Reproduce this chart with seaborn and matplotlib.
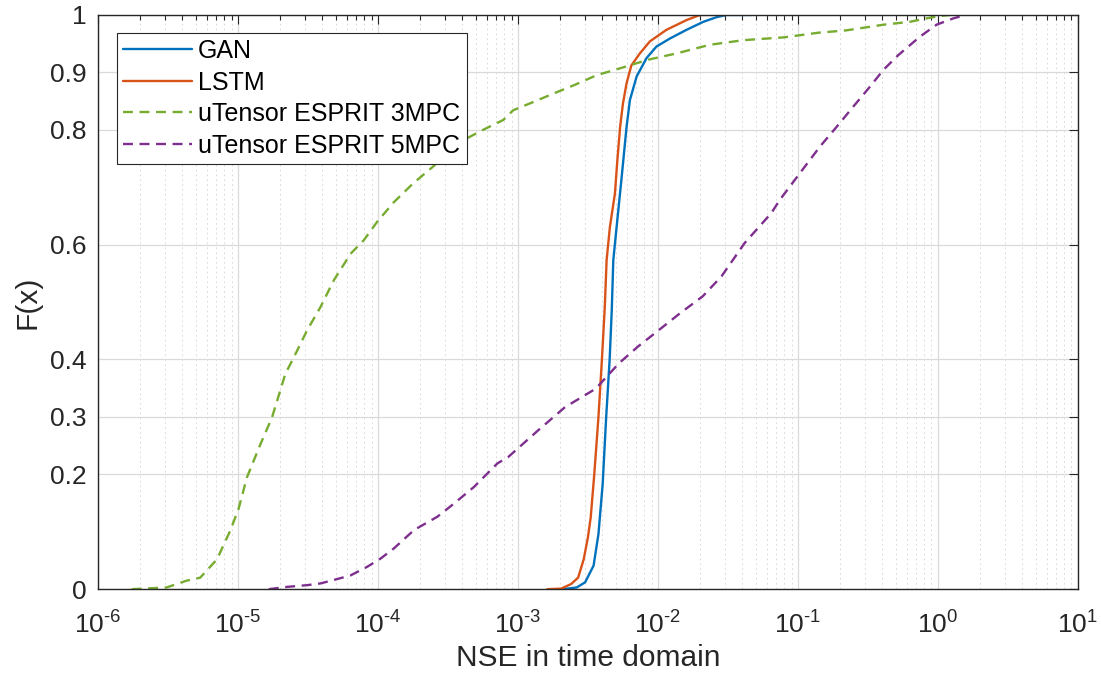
import numpy as np
import pandas as pd
import matplotlib
matplotlib.use("Agg")
import matplotlib.pyplot as plt
import matplotlib.ticker as mticker
import seaborn as sns

# CDF values (x = NSE, y = F(x))
gan_nse = [2.09e-3, 2.63e-3, 3.02e-3, 3.47e-3, 3.76e-3, 4.03e-3, 4.27e-3, 4.52e-3,
           4.68e-3, 4.80e-3, 5.07e-3, 5.51e-3, 5.97e-3, 6.31e-3, 7.05e-3, 8.30e-3,
           9.77e-3, 1.22e-2, 1.60e-2, 2.11e-2, 2.62e-2, 3.09e-2, 4.67e-2]
gan_cdf = [0.0, 0.003, 0.012, 0.041, 0.096, 0.183, 0.30, 0.40,
           0.486, 0.573, 0.631, 0.718, 0.805, 0.852, 0.893, 0.925,
           0.945, 0.959, 0.974, 0.988, 0.996, 1.0, 1.0]

lstm_nse = [1.62e-3, 2.04e-3, 2.40e-3, 2.69e-3, 2.95e-3, 3.16e-3, 3.31e-3, 3.51e-3,
            3.76e-3, 3.98e-3, 4.17e-3, 4.30e-3, 4.54e-3, 4.93e-3, 5.13e-3, 5.37e-3,
            5.62e-3, 5.97e-3, 6.46e-3, 7.43e-3, 8.77e-3, 1.15e-2, 1.60e-2, 2.00e-2, 3.02e-2]
lstm_cdf = [0.0, 0.001, 0.009, 0.02, 0.052, 0.09, 0.125, 0.20,
            0.30, 0.40, 0.49, 0.573, 0.631, 0.689, 0.747, 0.805,
            0.845, 0.881, 0.912, 0.933, 0.954, 0.974, 0.991, 1.0, 1.0]

esprit3_nse = [1.74e-6, 3.09e-6, 4.32e-6, 5.37e-6, 7.08e-6, 8.81e-6, 1.01e-5, 1.16e-5,
               1.45e-5, 1.75e-5, 2.18e-5, 2.51e-5, 3.12e-5, 3.88e-5, 4.84e-5, 6.37e-5,
               7.94e-5, 9.89e-5, 1.30e-4, 1.79e-4, 2.48e-4, 3.27e-4, 4.31e-4, 5.65e-4,
               7.85e-4, 9.25e-4, 1.22e-3, 1.79e-3, 2.48e-3, 3.65e-3, 5.36e-3, 8.51e-3,
               1.36e-2, 2.35e-2, 4.07e-2, 8.0e-2, 0.14, 0.22, 0.41, 0.63, 0.83, 1.03, 1.23]
esprit3_cdf = [0.0, 0.003, 0.015, 0.02, 0.052, 0.102, 0.14, 0.195,
               0.253, 0.299, 0.375, 0.404, 0.451, 0.491, 0.538, 0.584,
               0.608, 0.64, 0.674, 0.707, 0.736, 0.765, 0.785, 0.80,
               0.817, 0.834, 0.846, 0.863, 0.877, 0.895, 0.907, 0.922,
               0.933, 0.948, 0.956, 0.961, 0.969, 0.973, 0.983, 0.988, 0.994, 0.998, 1.0]

esprit5_nse = [1.66e-5, 2.24e-5, 3.12e-5, 3.88e-5, 4.83e-5, 6.37e-5, 8.38e-5, 1.04e-4,
               1.30e-4, 1.81e-4, 2.65e-4, 3.49e-4, 4.85e-4, 7.13e-4, 8.51e-4, 1.40e-3,
               2.17e-3, 3.59e-3, 5.25e-3, 7.16e-3, 1.05e-2, 1.43e-2, 2.09e-2, 2.85e-2,
               4.17e-2, 6.46e-2, 7.43e-2, 0.103, 0.144, 0.189, 0.248, 0.327,
               0.407, 0.521, 0.743, 0.979, 1.29, 1.58]
esprit5_cdf = [0.0, 0.004, 0.007, 0.01, 0.016, 0.024, 0.039, 0.053,
               0.071, 0.103, 0.126, 0.149, 0.178, 0.219, 0.23, 0.277,
               0.317, 0.349, 0.393, 0.422, 0.454, 0.48, 0.51, 0.545,
               0.603, 0.655, 0.678, 0.724, 0.771, 0.805, 0.840, 0.875,
               0.904, 0.93, 0.962, 0.983, 0.994, 1.0]

y_ticks = [0, 0.2, 0.3, 0.4, 0.6, 0.8, 0.9, 1]
y_tick_labels = ['0', '0.2', '0.3', '0.4', '0.6', '0.8', '0.9', '1']

series = [
    ('GAN', gan_nse, gan_cdf, '#0072BD', '-'),
    ('LSTM', lstm_nse, lstm_cdf, '#D95319', '-'),
    ('uTensor ESPRIT 3MPC', esprit3_nse, esprit3_cdf, '#77AC30', (0, (4.2, 2.8))),
    ('uTensor ESPRIT 5MPC', esprit5_nse, esprit5_cdf, '#7E2F8E', (0, (4.2, 2.8))),
]


def load_data():
    parts = []
    for name, x, y, _, _ in series:
        parts.append(pd.DataFrame({'NSE': x, 'F': y, 'Yontem': name}))
    return pd.concat(parts, ignore_index=True)


def us_etiket(v, pos):
    us = int(round(np.log10(v)))
    return r'$\mathregular{10^{%s}}$' % str(us).replace('-', '\u2010')


def cdf_grafik(df):
    sns.set_theme(style="white")
    plt.rcParams['font.family'] = ['Liberation Sans', 'DejaVu Sans']
    plt.rcParams['axes.unicode_minus'] = False
    plt.rcParams['mathtext.default'] = 'regular'

    fig = plt.figure(figsize=(11.01, 6.78), dpi=100)
    ax = fig.add_axes([0.089, 0.131, 0.890, 0.847])
    ax.set_xscale('log')

    for name, _, _, renk, stil in series:
        alt = df[df['Yontem'] == name]
        sns.lineplot(data=alt, x='NSE', y='F', ax=ax, color=renk, linestyle=stil,
                     linewidth=1.7, sort=False, estimator=None, label=name)

    ax.set_xlim(1e-6, 1e1)
    ax.set_ylim(0, 1)
    ax.xaxis.set_major_locator(mticker.LogLocator(base=10, numticks=20))
    ax.xaxis.set_major_formatter(mticker.FuncFormatter(us_etiket))
    ax.xaxis.set_minor_locator(mticker.LogLocator(base=10, subs=np.arange(2, 10), numticks=20))
    ax.xaxis.set_minor_formatter(mticker.NullFormatter())
    ax.set_yticks(y_ticks)
    ax.set_yticklabels(y_tick_labels)

    ax.set_axisbelow(True)
    ax.grid(True, which='major', color='#dadada', linewidth=0.9, linestyle='-')
    ax.grid(True, which='minor', axis='x', color='#dddddd', linewidth=0.7, linestyle=(0, (2.0, 3.0)))

    koyu = '#262626'
    ax.tick_params(which='both', direction='in', top=True, right=True, color=koyu,
                   labelcolor=koyu, width=0.8, labelsize=19)
    ax.tick_params(which='major', length=6.5)
    ax.tick_params(which='minor', length=3.6)
    ax.tick_params(axis='x', pad=16)
    ax.tick_params(axis='y', pad=8)
    for sp in ax.spines.values():
        sp.set_color(koyu)
        sp.set_linewidth(1.0)

    ax.set_xlabel('NSE in time domain', fontsize=21.5, color=koyu, labelpad=4)
    ax.set_ylabel('F(x)', fontsize=21.5, color=koyu, labelpad=6)

    leg = ax.legend(loc='upper left', bbox_to_anchor=(0.0194, 0.9686), borderaxespad=0,
                    fontsize=18, frameon=True, fancybox=False, edgecolor=koyu,
                    framealpha=1, handlelength=2.75, handletextpad=0.25,
                    labelspacing=0.3, borderpad=0.25)
    leg.get_frame().set_linewidth(0.8)
    for t in leg.get_texts():
        t.set_color('black')

    fig.savefig("out.png", dpi=100)


def main():
    df = load_data()
    cdf_grafik(df)


if __name__ == "__main__":
    main()
